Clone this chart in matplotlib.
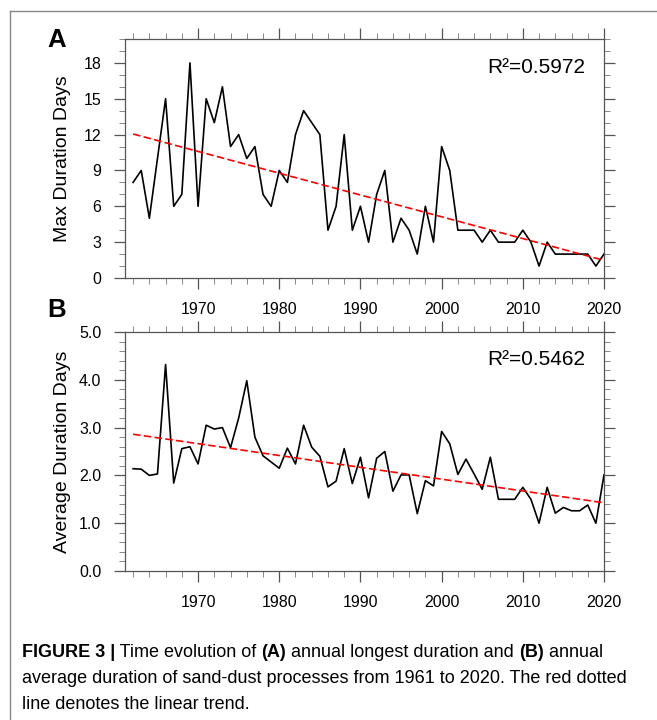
import numpy as np
import matplotlib
matplotlib.use('Agg')
import matplotlib.pyplot as plt
from matplotlib.ticker import MultipleLocator, FormatStrFormatter
from matplotlib.lines import Line2D

plt.rcParams['font.family'] = ['Liberation Sans', 'DejaVu Sans']

# data
years = np.arange(1962, 2021)
max_days = [8, 9, 5, 10, 15, 6, 7, 18, 6, 15,
            13, 16, 11, 12, 10, 11, 7, 6, 9, 8,
            12, 14, 13, 12, 4, 6, 12, 4, 6, 3,
            7, 9, 3, 5, 4, 2, 6, 3, 11, 9,
            4, 4, 4, 3, 4, 3, 3, 3, 4, 3,
            1, 3, 2, 2, 2, 2, 2, 1, 2]
avg_days = [2.14, 2.13, 2.00, 2.03, 4.32, 1.84, 2.56, 2.60, 2.24, 3.05,
            2.97, 3.00, 2.58, 3.20, 3.98, 2.80, 2.41, 2.28, 2.15, 2.57,
            2.24, 3.05, 2.59, 2.40, 1.76, 1.88, 2.56, 1.83, 2.38, 1.53,
            2.36, 2.50, 1.67, 2.01, 2.01, 1.20, 1.89, 1.78, 2.92, 2.66,
            2.02, 2.34, 2.03, 1.71, 2.38, 1.50, 1.50, 1.50, 1.75, 1.50,
            1.00, 1.75, 1.21, 1.33, 1.26, 1.26, 1.38, 1.00, 2.01]
r2_labels = ['R\u00b2=0.5972', 'R\u00b2=0.5462']
ylabels = ['Max Duration Days', 'Average Duration Days']

W, H = 657, 720
fig = plt.figure(figsize=(W/100, H/100), dpi=100)

axA = fig.add_axes([125/W, 1-278/H, 479/W, 239/H])
axB = fig.add_axes([125/W, 1-571/H, 479/W, 239/H])


def style(ax):
    for s in ax.spines.values():
        s.set_color('#555555')
        s.set_linewidth(0.9)
    ax.tick_params(which='both', direction='out', top=True, right=True,
                   labeltop=False, labelright=False, colors='#555555',
                   labelcolor='black')
    ax.tick_params(which='major', length=8, width=0.9, pad=9, labelsize=11.5)
    ax.tick_params(which='minor', length=4, width=0.7, colors='#888888')
    ax.set_xlim(1961, 2020)
    ax.xaxis.set_major_locator(MultipleLocator(10))
    ax.xaxis.set_minor_locator(MultipleLocator(2))


for ax, vals, lab, r2, ty in [(axA, max_days, ylabels[0], r2_labels[0], 0.858),
                              (axB, avg_days, ylabels[1], r2_labels[1], 0.863)]:
    style(ax)
    ax.plot(years, vals, color='black', lw=1.2, zorder=3)
    k, b = np.polyfit(years, vals, 1)
    ax.plot(years, k*years + b, color='red', lw=1.2, dashes=(4.5, 2), zorder=4)
    ax.text(0.960, ty, r2, transform=ax.transAxes, ha='right', va='baseline',
            fontsize=15)
    ax.set_ylabel(lab, fontsize=14)
    ax.yaxis.set_label_coords(-0.113, 0.5)

axA.set_ylim(0, 20)
axA.yaxis.set_major_locator(MultipleLocator(3))
axA.yaxis.set_minor_locator(MultipleLocator(1))
axA.set_yticks([0, 3, 6, 9, 12, 15, 18])

axB.set_ylim(0, 5)
axB.yaxis.set_major_locator(MultipleLocator(1))
axB.yaxis.set_minor_locator(MultipleLocator(0.2))
axB.yaxis.set_major_formatter(FormatStrFormatter('%.1f'))

fig.text(47/W, 1-47/H, 'A', fontsize=18.5, fontweight='bold', va='baseline')
fig.text(47/W, 1-317/H, 'B', fontsize=18.5, fontweight='bold', va='baseline')

# frame of the figure box
fig.add_artist(Line2D([9.5/W, 9.5/W], [0, 1-10.5/H], transform=fig.transFigure,
                      color='#888888', lw=1))
fig.add_artist(Line2D([9.5/W, 1], [1-10.5/H, 1-10.5/H], transform=fig.transFigure,
                      color='#888888', lw=1))

# caption
cap_lines = [
    [('FIGURE 3 |', 'bold'), (' Time evolution of ', 'normal'), ('(A)', 'bold'),
     (' annual longest duration and ', 'normal'), ('(B)', 'bold'), (' annual', 'normal')],
    [('average duration of sand-dust processes from 1961 to 2020. The red dotted', 'normal')],
    [('line denotes the linear trend.', 'normal')],
]
cap_base = [657, 683, 709]
cap_size = 13
for parts, yb in zip(cap_lines, cap_base):
    s, w = parts[0]
    t = fig.text(22/W, 1-yb/H, s, fontsize=cap_size, fontweight=w, va='baseline')
    for s, w in parts[1:]:
        t = axB.annotate(s, xy=(1, 0), xycoords=t, va='bottom', ha='left',
                         fontsize=cap_size, fontweight=w, annotation_clip=False)

fig.savefig('out.png', dpi=100)
